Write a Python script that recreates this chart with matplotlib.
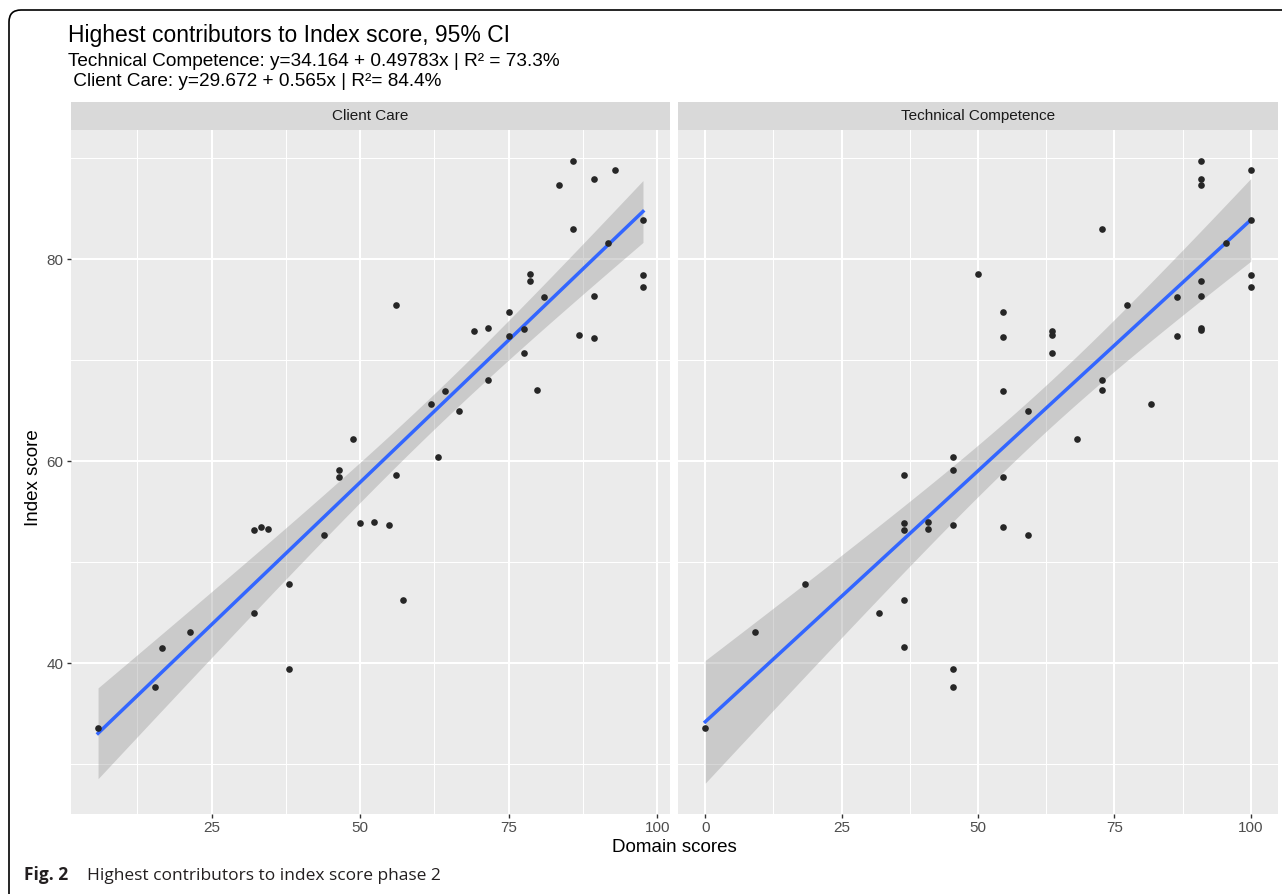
import matplotlib
matplotlib.use('Agg')
import matplotlib.pyplot as plt
from matplotlib.patches import FancyBboxPatch
import numpy as np

# Client Care panel (domain score, index score)
client_x = [85.8, 92.9, 89.3, 83.4, 97.6, 85.8, 91.7, 78.6, 78.6, 97.6,
            97.6, 81.0, 89.3, 56.0, 75.1, 69.1, 71.5, 77.5, 75.1, 86.9,
            89.3, 77.5, 71.5, 79.8, 61.9, 64.3, 66.7, 48.8, 63.1, 46.4,
            46.4, 56.0, 32.1, 33.3, 34.5, 44.0, 50.0, 52.4, 54.8, 38.1,
            32.1, 57.2, 21.4, 16.6, 38.1, 15.4, 5.9]
client_y = [89.7, 88.8, 87.9, 87.4, 83.9, 83.0, 81.6, 78.5, 77.8, 78.4,
            77.2, 76.3, 76.4, 75.5, 74.8, 72.9, 73.2, 73.1, 72.4, 72.5,
            72.2, 70.7, 68.0, 67.0, 65.7, 66.9, 65.0, 62.2, 60.4, 59.1,
            58.4, 58.6, 53.2, 53.5, 53.3, 52.7, 53.9, 54.0, 53.7, 47.8,
            45.0, 46.2, 43.1, 41.5, 39.4, 37.6, 33.6]

# Technical Competence panel
tech_x = [90.9, 90.9, 90.9, 100, 100, 72.7, 95.5, 50.0, 90.9, 100,
          100, 86.4, 90.9, 77.3, 54.5, 63.6, 63.6, 54.5, 90.9, 90.9,
          86.4, 63.6, 72.7, 72.7, 54.5, 81.8, 59.1, 68.2, 45.5, 45.5,
          36.4, 54.5, 36.4, 36.4, 40.9, 40.9, 45.5, 54.5, 59.1, 18.2,
          36.4, 31.8, 9.1, 36.4, 45.5, 45.5, 0]
tech_y = [89.7, 87.9, 87.4, 88.8, 83.9, 83.0, 81.6, 78.5, 77.8, 78.4,
          77.2, 76.3, 76.4, 75.5, 74.8, 72.9, 72.5, 72.3, 73.2, 73.0,
          72.4, 70.7, 68.0, 67.0, 66.9, 65.7, 65.0, 62.2, 60.4, 59.1,
          58.6, 58.4, 53.9, 53.2, 54.0, 53.3, 53.7, 53.5, 52.7, 47.8,
          46.2, 45.0, 43.1, 41.6, 39.4, 37.6, 33.6]

title = 'Highest contributors to Index score, 95% CI'
sub1 = 'Technical Competence: y=34.164 + 0.49783x | R\u00b2 = 73.3%'
sub2 = ' Client Care: y=29.672 + 0.565x | R\u00b2= 84.4%'
caption_bold = 'Fig. 2'
caption = 'Highest contributors to index score phase 2'

plt.rcParams['font.family'] = ['Liberation Sans', 'DejaVu Sans']

W, H = 1282, 894
fig = plt.figure(figsize=(W / 100, H / 100), dpi=100)


def fx(px):
    return px / W


def fy(py):
    return 1 - py / H


T975 = 2.0141  # t quantile for 45 df


def fit_band(xs, ys):
    x = np.asarray(xs, float)
    y = np.asarray(ys, float)
    b, a = np.polyfit(x, y, 1)
    n = len(x)
    s = np.sqrt(np.sum((y - (a + b * x)) ** 2) / (n - 2))
    sxx = np.sum((x - x.mean()) ** 2)
    grid = np.linspace(x.min(), x.max(), 80)
    fit = a + b * grid
    se = s * np.sqrt(1 / n + (grid - x.mean()) ** 2 / sxx)
    return grid, fit, fit - T975 * se, fit + T975 * se


def panel(x0, x1, xs, ys, xlim, xmajor, xminor, name, show_y):
    top, bottom = 130, 814
    ax = fig.add_axes([fx(x0), fy(bottom), (x1 - x0) / W, (bottom - top) / H])
    ax.set_facecolor('#EBEBEB')
    for s in ax.spines.values():
        s.set_visible(False)
    ax.set_xlim(xlim)
    ax.set_ylim(25.05, 92.8)
    ax.set_xticks(xmajor)
    ax.set_xticks(xminor, minor=True)
    ax.set_yticks([40, 60, 80])
    ax.set_yticks([30, 50, 70, 90], minor=True)
    ax.grid(True, which='major', color='white', lw=1.5)
    ax.grid(True, which='minor', color='white', lw=0.75)
    ax.set_axisbelow(True)
    ax.tick_params(which='major', length=3, width=1, color='#333333',
                   labelcolor='#4D4D4D', labelsize=11, pad=2)
    ax.tick_params(which='minor', length=0)
    if not show_y:
        ax.tick_params(axis='y', which='major', length=0, labelleft=False)

    grid, fit, lo, hi = fit_band(xs, ys)
    ax.fill_between(grid, lo, hi, color='#999999', alpha=0.4, lw=0, zorder=2)
    ax.plot(grid, fit, color='#3366FF', lw=2.5, zorder=3)
    ax.scatter(xs, ys, s=23, color='#262626', lw=0, zorder=4)

    strip = fig.add_axes([fx(x0), fy(129.5), (x1 - x0) / W, 27.5 / H])
    strip.set_facecolor('#D9D9D9')
    strip.set_xticks([])
    strip.set_yticks([])
    for s in strip.spines.values():
        s.set_visible(False)
    strip.text(0.5, 0.5, name, ha='center', va='center', fontsize=11,
               color='#1A1A1A', transform=strip.transAxes)
    return ax


panel(70.5, 670, client_x, client_y, (1.26, 102.15),
      [25, 50, 75, 100], [12.5, 37.5, 62.5, 87.5], 'Client Care', True)
panel(678, 1278, tech_x, tech_y, (-5, 105),
      [0, 25, 50, 75, 100], [12.5, 37.5, 62.5, 87.5], 'Technical Competence', False)

fig.text(fx(68), fy(42), title, fontsize=16.5, va='baseline')
fig.text(fx(68), fy(66.5), sub1, fontsize=13.7, va='baseline')
fig.text(fx(68), fy(85.5), sub2, fontsize=13.7, va='baseline')

fig.text(fx(33), fy(478), 'Index score', rotation=90, ha='center', va='center', fontsize=13.5)
fig.text(fx(674), fy(848), 'Domain scores', ha='center', va='center', fontsize=13.5)

fig.text(fx(24), fy(880), caption_bold, fontsize=12.5, fontweight='bold',
         family=['Open Sans', 'DejaVu Sans'], va='baseline', color='#231F20')
fig.text(fx(87), fy(880), caption, fontsize=12.5,
         family=['Open Sans', 'DejaVu Sans'], va='baseline', color='#231F20')

frame = FancyBboxPatch((0.09, -1.0), 20, 9.84, boxstyle='round,pad=0,rounding_size=0.12',
                       transform=fig.dpi_scale_trans, fill=False, ec='black', lw=1.2)
fig.add_artist(frame)

fig.savefig('out.png', dpi=100)
